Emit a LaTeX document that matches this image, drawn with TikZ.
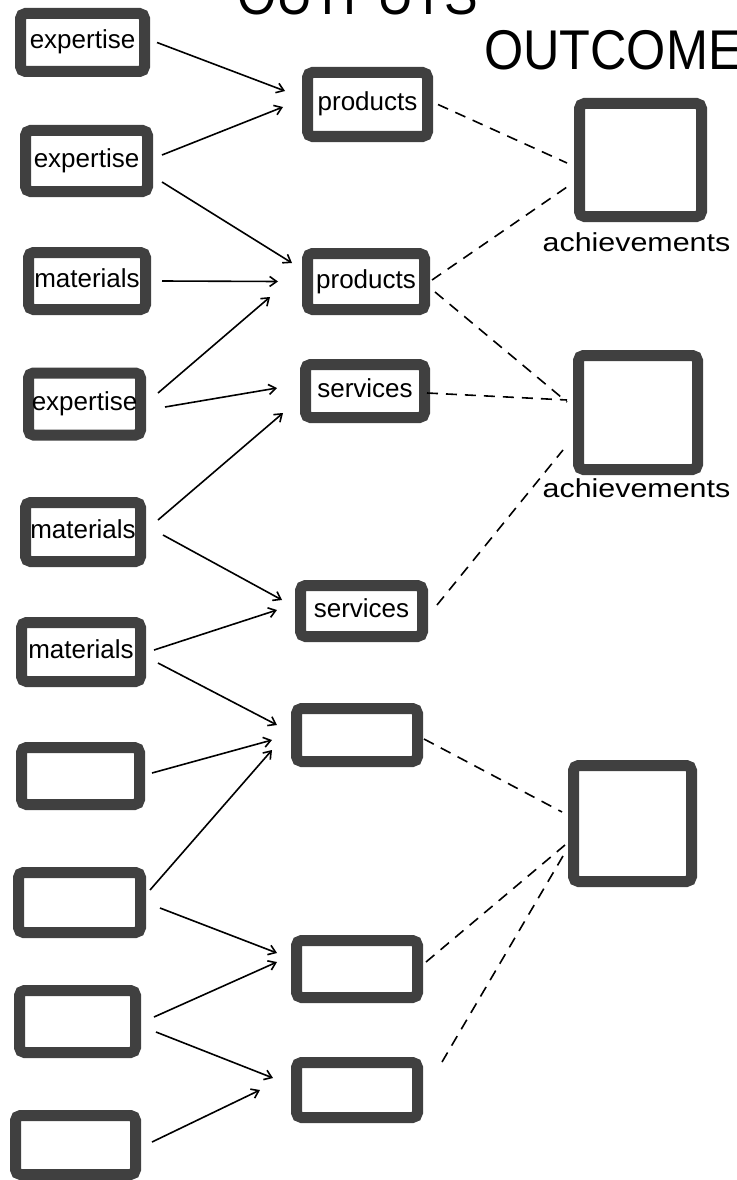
\documentclass[tikz,border=0pt]{standalone}
\usepackage{fontspec}
\setmainfont{Liberation Sans}
\newfontfamily\titlefont{Liberation Sans}[FakeStretch=0.9]
\newfontfamily\widefont{Liberation Sans}[FakeStretch=1.17]
\usetikzlibrary{arrows.meta}
\newcommand\arr[6]{\draw[conn] ([xshift=#2pt,yshift=#3pt]#1.east) -- ([xshift=#5pt,yshift=#6pt]#4.west);}
\newcommand\dsh[6]{\draw[dconn] ([xshift=#2pt,yshift=#3pt]#1.east) -- ([xshift=#5pt,yshift=#6pt]#4.west);}
\tikzset{
  box/.style={draw=black!75, line width=11pt, rounded corners=5pt, inner sep=0pt,
    font=\fontsize{26}{30}\selectfont, text height=19pt, text depth=6pt},
  conn/.style={line width=1.6pt, -{Straight Barb[length=7pt,width=10pt]}},
  dconn/.style={line width=1.6pt, dash pattern=on 11pt off 8pt},
  ttl/.style={font=\titlefont\fontsize{56}{60}\selectfont, inner sep=0pt, anchor=base west},
  lab/.style={font=\widefont\fontsize{26}{30}\selectfont, inner sep=0pt, anchor=base}
}
\begin{document}
\begin{tikzpicture}[x=1pt,y=-1pt]
\path[use as bounding box] (0,0) rectangle (736,1180);
\clip (0,0) rectangle (736,1180);
% titles
\node[ttl] (T1) at (237,15) {OUTPUTS};
\node[ttl] (T2) at (484,70) {OUTCOME};
% left column
\node[box, minimum width=124pt, minimum height=58pt] (L1) at (82.5,42.5) {expertise};
\node[box, minimum width=122pt, minimum height=61pt] (L2) at (86.5,161) {expertise};
\node[box, minimum width=117pt, minimum height=57pt] (L3) at (87,281) {materials};
\node[box, minimum width=112pt, minimum height=62pt] (L4) at (84.5,404) {expertise};
\node[box, minimum width=115pt, minimum height=59pt] (L5) at (83,532) {materials};
\node[box, minimum width=119pt, minimum height=59pt] (L6) at (81,652) {materials};
\node[box, minimum width=118pt, minimum height=57pt] (L7) at (80.5,776) {};
\node[box, minimum width=122pt, minimum height=60pt] (L8) at (79.5,902.5) {};
\node[box, minimum width=116pt, minimum height=62pt] (L9) at (77.5,1021.5) {};
\node[box, minimum width=120pt, minimum height=59pt] (L10) at (75.5,1145) {};
% middle column
\node[box, minimum width=120pt, minimum height=64pt] (M1) at (367.5,104.5) {products};
\node[box, minimum width=117pt, minimum height=56pt] (M2) at (366,281.5) {products};
\node[box, minimum width=119pt, minimum height=53pt] (M3) at (365,391) {services};
\node[box, minimum width=122pt, minimum height=51pt] (M4) at (361.5,611) {services};
\node[box, minimum width=121pt, minimum height=53pt] (M5) at (357,735) {};
\node[box, minimum width=121pt, minimum height=57pt] (M6) at (357,969) {};
\node[box, minimum width=121pt, minimum height=55pt] (M7) at (357,1090) {};
% right column
\node[box, minimum width=122pt, minimum height=113pt] (R1) at (640.5,160) {};
\node[box, minimum width=119pt, minimum height=114pt] (R2) at (638,412.5) {};
\node[box, minimum width=118pt, minimum height=116pt] (R3) at (632.5,823.5) {};
\node[lab] (A1) at (636.5,251) {achievements};
\node[lab] (A2) at (636.5,497) {achievements};
% inputs -> outputs
\arr{L1}{7}{0}{M1}{-17}{13.5}
\arr{L2}{9}{6}{M1}{-19}{-2.5}
\arr{L2}{9}{-21}{M2}{-10}{18.5}
\arr{L3}{11}{0}{M2}{-24}{0}
\arr{L4}{12}{11}{M2}{-32}{-15.5}
\arr{L4}{19}{-3}{M3}{-23}{3}
\arr{L5}{12}{12}{M3}{-17}{-22}
\arr{L5}{17}{-3}{M4}{-13}{11}
\arr{L6}{8}{2}{M4}{-18}{1}
\arr{L6}{12}{-11}{M5}{-14}{10}
\arr{L7}{7}{3}{M5}{-19}{-5}
\arr{L8}{4}{12.5}{M5}{-19}{-15}
\arr{L8}{14}{-5.5}{M6}{-14}{16}
\arr{L9}{13}{4.5}{M6}{-14}{7}
\arr{L9}{15}{-10.5}{M7}{-18}{12}
\arr{L10}{11}{3}{M7}{-31}{0}
% outputs -> outcomes
\dsh{M1}{5}{0}{R1}{-7}{-3}
\dsh{M2}{2}{1.5}{R1}{-7}{-27}
\dsh{M2}{5}{-10.5}{R2}{-6}{10.5}
\dsh{M3}{-3}{-2}{R2}{-6}{12.5}
\dsh{M4}{9}{6}{R2}{-10}{-37.5}
\dsh{M5}{1}{-4}{R3}{-6}{11.5}
\dsh{M6}{3}{7}{R3}{-3}{-21.5}
\dsh{M7}{19}{28}{R3}{-5}{-32.5}
\end{tikzpicture}
\end{document}
